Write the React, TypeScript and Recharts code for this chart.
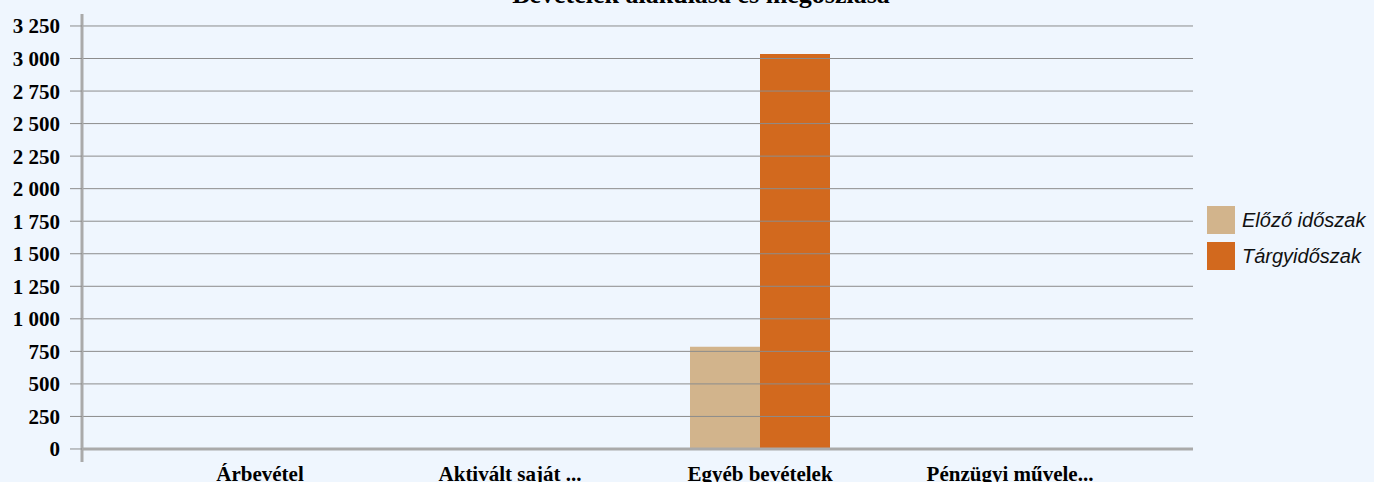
import React from 'react';
import { BarChart, Bar, XAxis, YAxis, ReferenceLine } from 'recharts';

const categories = ['Árbevétel', 'Aktivált saját ...', 'Egyéb bevételek', 'Pénzügyi művele...'];
const previousPeriod = [0, 0, 785, 0];
const currentPeriod = [0, 0, 3035, 0];
const seriesNames = ['Előző időszak', 'Tárgyidőszak'];
const seriesColors = ['#d2b48c', '#d2691e'];
const yTicks = [0, 250, 500, 750, 1000, 1250, 1500, 1750, 2000, 2250, 2500, 2750, 3000, 3250];
const title = 'Bevételek alakulása és megoszlása';

const data = categories.map((c, i) => ({ name: c, prev: previousPeriod[i], curr: currentPeriod[i] }));

const fmt = (v: number) => String(v).replace(/\B(?=(\d{3})+(?!\d))/g, ' ');

const serif = '"Liberation Serif", "Times New Roman", serif';

export default function App() {
  return (
    <div style={{ position: 'absolute', left: 0, top: 0, width: 1374, height: 482, background: '#eff6fe', overflow: 'hidden' }}>
      <div style={{ position: 'absolute', left: 0, top: -18, width: 1402, textAlign: 'center', fontFamily: serif, fontWeight: 'bold', fontSize: 26, lineHeight: '26px', color: '#000' }}>{title}</div>
      <BarChart width={1374} height={482} data={data} margin={{ top: 14, right: 181, left: 0, bottom: 0 }} barCategoryGap="22%" barGap={0}>
        <XAxis dataKey="name" axisLine={false} tickLine={false} tickSize={0} tickMargin={4} height={20} padding={{ left: 53, right: 58 }} interval={0}
          tick={{ fill: '#000', fontFamily: serif, fontWeight: 'bold', fontSize: 21 }} />
        <YAxis width={82} domain={[-100, 3342]} ticks={yTicks} tickFormatter={fmt} allowDataOverflow interval={0}
          axisLine={{ stroke: '#aaaaaa', strokeWidth: 3 }} tickLine={{ stroke: '#8c8c8c' }} tickSize={12} tickMargin={10}
          tick={{ fill: '#000', fontFamily: serif, fontWeight: 'bold', fontSize: 21 }} />
        {yTicks.filter((t) => t !== 0).map((t) => (
          <ReferenceLine key={t} y={t} stroke="#8c8c8c" strokeWidth={1} />
        ))}
        <ReferenceLine y={0} stroke="#aaaaaa" strokeWidth={3} />
        <Bar dataKey="prev" name={seriesNames[0]} fill={seriesColors[0]} isAnimationActive={false} />
        <Bar dataKey="curr" name={seriesNames[1]} fill={seriesColors[1]} isAnimationActive={false} />
      </BarChart>
      <div style={{ position: 'absolute', left: 1207, top: 206, display: 'flex', flexDirection: 'column', gap: 8 }}>
        {seriesNames.map((n, i) => (
          <div key={n} style={{ display: 'flex', alignItems: 'center', height: 28 }}>
            <div style={{ width: 28, height: 28, background: seriesColors[i] }} />
            <span style={{ marginLeft: 7, fontFamily: '"Liberation Sans", Arial, sans-serif', fontStyle: 'italic', fontSize: 20, color: '#111', whiteSpace: 'nowrap' }}>{n}</span>
          </div>
        ))}
      </div>
    </div>
  );
}
